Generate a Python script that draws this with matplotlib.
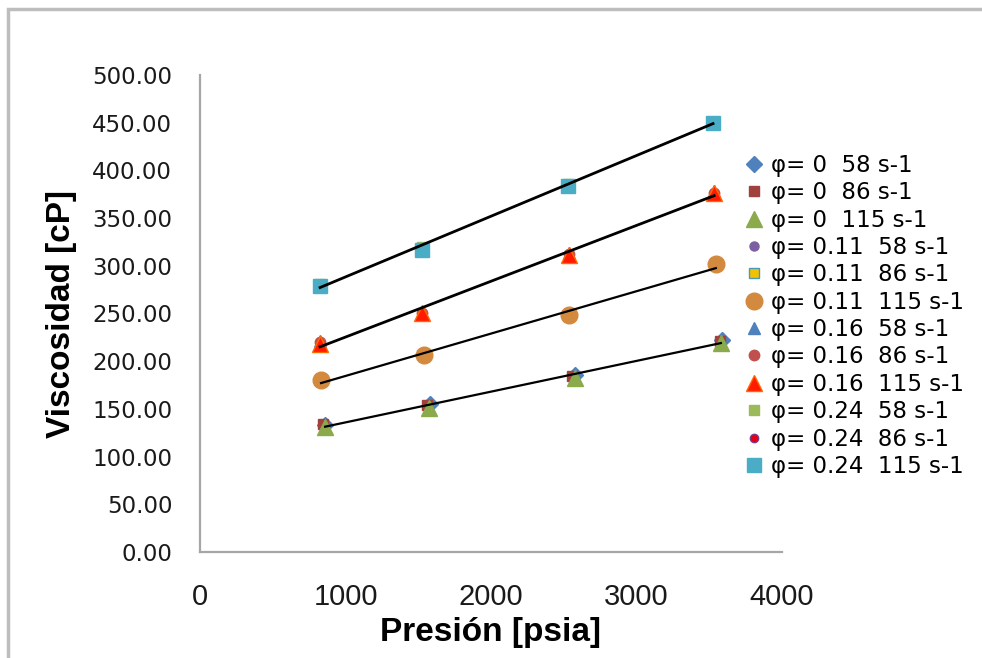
import numpy as np
import matplotlib.pyplot as plt
from matplotlib.patches import Rectangle
from matplotlib.ticker import FormatStrFormatter

# pressure [psia] and viscosity [cP] per volume fraction / shear rate
p_0_58 = [860, 1580, 2580, 3590]
v_0_58 = [133, 155, 186, 222]
p_0_86 = [845, 1560, 2560, 3575]
v_0_86 = [134, 154, 185, 221]
p_0_115 = [860, 1575, 2575, 3580]
v_0_115 = [131, 151, 182, 219]

p_011_58 = [830, 1535, 2530, 3540]
v_011_58 = [180, 206, 247, 300]
p_011_86 = [830, 1535, 2530, 3540]
v_011_86 = [181, 207, 248, 301]
p_011_115 = [832, 1540, 2535, 3545]
v_011_115 = [180, 206, 248, 302]

p_016_58 = [825, 1526, 2536, 3533]
v_016_58 = [221, 252, 313, 378]
p_016_86 = [822, 1526, 2536, 3530]
v_016_86 = [220, 251, 312, 376]
p_016_115 = [825, 1526, 2536, 3533]
v_016_115 = [218, 251, 311, 376]

p_024_58 = [825, 1526, 2529, 3526]
v_024_58 = [281, 320, 386, 451]
p_024_86 = [825, 1526, 2529, 3526]
v_024_86 = [280, 318, 385, 450]
p_024_115 = [825, 1526, 2529, 3526]
v_024_115 = [279, 317, 384, 450]

labels = [
    "φ= 0  58 s-1", "φ= 0  86 s-1", "φ= 0  115 s-1",
    "φ= 0.11  58 s-1", "φ= 0.11  86 s-1", "φ= 0.11  115 s-1",
    "φ= 0.16  58 s-1", "φ= 0.16  86 s-1", "φ= 0.16  115 s-1",
    "φ= 0.24  58 s-1", "φ= 0.24  86 s-1", "φ= 0.24  115 s-1",
]
pressures = [p_0_58, p_0_86, p_0_115, p_011_58, p_011_86, p_011_115,
             p_016_58, p_016_86, p_016_115, p_024_58, p_024_86, p_024_115]
viscosities = [v_0_58, v_0_86, v_0_115, v_011_58, v_011_86, v_011_115,
               v_016_58, v_016_86, v_016_115, v_024_58, v_024_86, v_024_115]

# marker, size, face, edge
styles = [
    ("D", 8, "#4F81BD", "#4F81BD"),
    ("s", 6.5, "#A0413E", "#A0413E"),
    ("^", 12, "#8AAA4C", "#8AAA4C"),
    ("o", 6.5, "#7B5FA0", "#7B5FA0"),
    ("s", 7, "#F2C200", "#4A9BB0"),
    ("o", 12, "#D38A3E", "#D38A3E"),
    ("^", 8, "#4F81BD", "#4F81BD"),
    ("o", 7.5, "#C0504D", "#C0504D"),
    ("^", 11, "#FF1A00", "#FF6A00"),
    ("s", 7.5, "#9BBB59", "#9BBB59"),
    ("o", 6, "#E2001A", "#7A3A8A"),
    ("s", 9.5, "#4BACC6", "#4BACC6"),
]

plt.rcParams["font.family"] = ["DejaVu Sans"]

fig = plt.figure(figsize=(9.82, 6.58), dpi=100)
ax = fig.add_axes([200 / 982, 1 - 552 / 658, 582 / 982, 477 / 658])

for p, v, lab, (m, ms, fc, ec) in zip(pressures, viscosities, labels, styles):
    ax.plot(p, v, linestyle="none", marker=m, markersize=ms,
            markerfacecolor=fc, markeredgecolor=ec, markeredgewidth=1,
            label=lab)

# linear trend line for each volume fraction
for i, lw in zip(range(0, 12, 3), [1.6, 1.6, 2.0, 2.0]):
    x = np.concatenate([pressures[i], pressures[i + 1], pressures[i + 2]])
    y = np.concatenate([viscosities[i], viscosities[i + 1], viscosities[i + 2]])
    k, b = np.polyfit(x, y, 1)
    xs = np.array([min(pressures[i + 2]), max(pressures[i + 2])])
    ax.plot(xs, k * xs + b, color="black", linewidth=lw, zorder=3)

ax.set_xlim(0, 4000)
ax.set_ylim(0, 500)
ax.set_xticks([0, 1000, 2000, 3000, 4000])
ax.set_yticks(np.arange(0, 501, 50))
ax.yaxis.set_major_formatter(FormatStrFormatter("%.2f"))
ax.tick_params(length=0, colors="#1a1a1a")
ax.tick_params(axis="y", labelsize=16.5, pad=20)
ax.tick_params(axis="x", pad=22)
for t in ax.get_xticklabels():
    t.set_fontfamily(["Liberation Sans Narrow", "Liberation Sans"])
    t.set_fontsize(21)
for s in ["top", "right"]:
    ax.spines[s].set_visible(False)
for s in ["left", "bottom"]:
    ax.spines[s].set_color("#a6a6a6")
    ax.spines[s].set_linewidth(1.6)

ax.set_xlabel("Presión [psia]", fontsize=24, fontweight="bold",
              family=["Liberation Sans Narrow", "Liberation Sans"], labelpad=5)
ax.set_ylabel("Viscosidad [cP]", fontsize=24, fontweight="bold",
              family=["Liberation Sans Narrow", "Liberation Sans"], labelpad=11)

fig.legend(loc="upper left", bbox_to_anchor=(747 / 982, 1 - 154 / 658),
           frameon=False, fontsize=16.5, handlelength=0.6, handletextpad=0.45,
           labelspacing=0.19, borderpad=0, borderaxespad=0)

# outer chart border
fig.add_artist(Rectangle((8 / 982, -0.1), 1.2, 1.1 - 9 / 658,
                         transform=fig.transFigure, fill=False,
                         edgecolor="#bdbdbd", linewidth=2.5))

fig.savefig("out.png", dpi=100)
